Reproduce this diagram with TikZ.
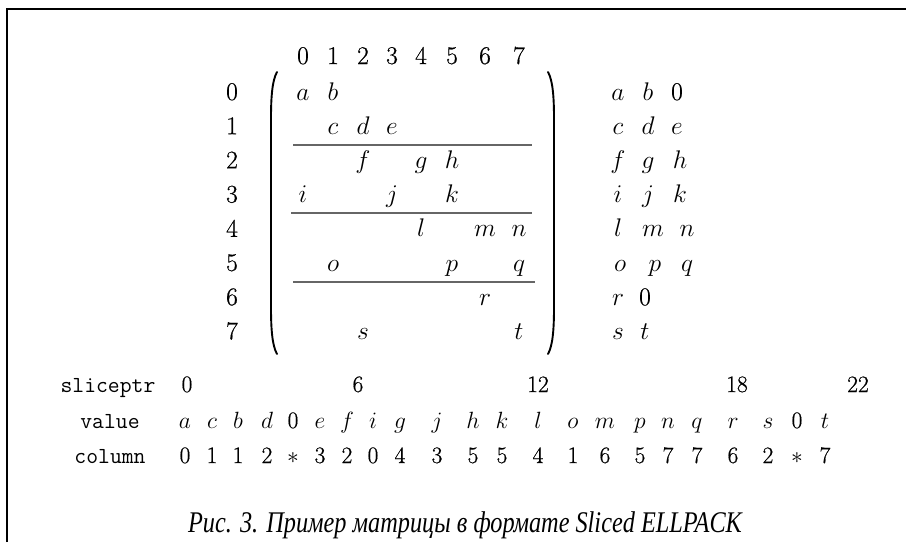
\documentclass[tikz,border=0pt]{standalone}
\usepackage{fix-cm}
\usepackage{fontspec}
\newfontfamily\capfont{Liberation Serif}[ItalicFont={Liberation Serif Italic}, FakeStretch=0.81]
\newfontfamily\digfont{Latin Modern Roman}[FakeBold=0.6]
\tikzset{
  mnum/.style={font=\fontsize{25.5}{30}\selectfont, inner sep=0pt, anchor=base},
  bnum/.style={font=\fontsize{23.5}{28}\selectfont, inner sep=0pt, anchor=base},
  tlab/.style={font=\fontsize{23}{28}\selectfont\ttfamily, inner sep=0pt, anchor=base},
  caption/.style={font=\capfont\fontsize{30}{36}\selectfont\itshape, inner sep=0pt, anchor=base},
  sepline/.style={draw=black!60, line width=1.1pt},
  paren/.style={line width=1.9pt, line cap=round},
  frameline/.style={line width=2pt}
}
\begin{document}
\begin{tikzpicture}[x=1pt,y=-1pt]
\useasboundingbox (0,0) rectangle (906,542);
% frame
\draw[frameline] (7,542) -- (7,9) -- (906,9);
% column header
\foreach \x [count=\i from 0] in {303,333,363,392,421,452,485,519}
  \node[mnum] (h\i) at (\x,64) {\digfont\i};
% row labels
\foreach \i in {0,...,7}
  \node[mnum] (r\i) at (232,{100+34.2*\i}) {\digfont\i};
% matrix entries
\foreach \l/\x/\r in {a/303/0,b/333/0,c/333/1,d/363/1,e/392/1,f/363/2,g/421/2,h/452/2,
  i/303/3,j/392/3,k/452/3,l/421/4,m/485/4,n/519/4,o/333/5,p/452/5,q/519/5,r/485/6,s/363/7,t/519/7}
  \node[mnum] (m\l) at (\x,{100+34.2*\r}) {$\l$};
% parentheses
\draw[paren] (277,72) .. controls (272.5,80) and (271,95) .. (271,118) -- (271,308)
  .. controls (271,331) and (272.5,346) .. (277,354);
\draw[paren] (548,72) .. controls (552.5,80) and (554,95) .. (554,118) -- (554,308)
  .. controls (554,331) and (552.5,346) .. (548,354);
% slice separators
\coordinate (s1a) at (293,145); \coordinate (s1b) at (532,145);
\coordinate (s2a) at (291,213); \coordinate (s2b) at (532,213);
\coordinate (s3a) at (293,282); \coordinate (s3b) at (535,282);
\draw[sepline] (s1a) -- (s1b);
\draw[sepline] (s2a) -- (s2b);
\draw[sepline] (s3a) -- (s3b);
% ELL storage
\foreach \l/\x/\r [count=\k] in {a/618/0,b/648/0,
  c/618/1,d/648/1,e/677/1,
  f/618/2,g/648/2,h/680/2,
  i/618/3,j/648/3,k/680/3,
  l/618/4,m/653/4,n/687/4,
  o/620/5,p/655/5,q/687/5,
  r/618/6,
  s/618/7,t/645/7}
  \node[mnum] (e\k) at (\x,{100+34.2*\r}) {$\l$};
\node[mnum] (ez0) at (677,100) {\digfont 0};
\node[mnum] (ez6) at (645,{100+34.2*6}) {\digfont 0};
% bottom arrays
\node[tlab] (lsl) at (108,392) {sliceptr};
\node[tlab] (lva) at (110,428) {value};
\node[tlab] (lco) at (110,463) {column};
\foreach \v/\x [count=\k] in {0/187,6/358,12/538,18/737,22/858}
  \node[bnum] (sp\k) at (\x,392) {\digfont\v};
\foreach \v/\c/\x [count=\k] in {$a$/0/185,$c$/1/212,$b$/1/238,$d$/2/267,0/$\ast$/293,$e$/3/320,$f$/2/347,
  $i$/0/373,$g$/4/400,$j$/3/437,$h$/5/473,$k$/5/502,$l$/4/538,$o$/1/573,$m$/6/605,$p$/5/640,$n$/7/668,
  $q$/7/697,$r$/6/733,$s$/2/768,0/$\ast$/797,$t$/7/825}
  {
  \node[bnum] (va\k) at (\x,428) {\digfont\v};
  \node[bnum] (co\k) at (\x,463) {\digfont\c};
  }
% caption
\node[caption] (cap) at (465,532) {Рис. 3. Пример матрицы в формате Sliced ELLPACK};
\end{tikzpicture}
\end{document}
